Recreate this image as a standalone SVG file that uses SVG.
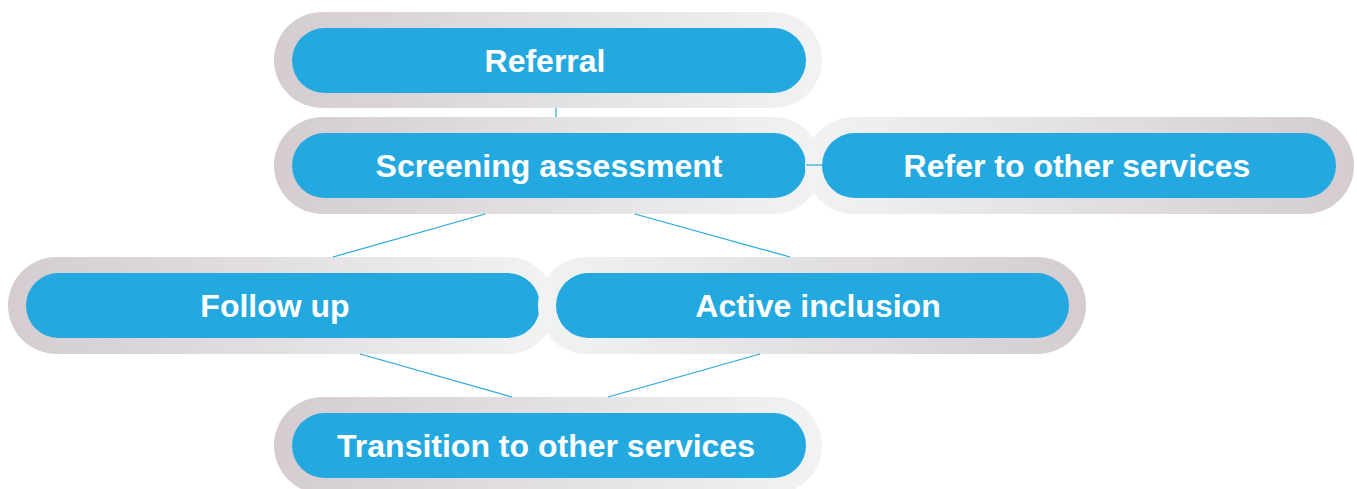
<svg xmlns="http://www.w3.org/2000/svg" width="1357" height="489" viewBox="0 0 1357 489">
  <defs>
    <linearGradient id="gDL" x1="0" y1="0" x2="1" y2="0">
      <stop offset="0" stop-color="#d4ccd1"/>
      <stop offset="1" stop-color="#f1f3f3"/>
    </linearGradient>
    <linearGradient id="gLD" x1="0" y1="0" x2="1" y2="0">
      <stop offset="0" stop-color="#f1f3f3"/>
      <stop offset="1" stop-color="#d4ccd1"/>
    </linearGradient>
  </defs>
  <style>
    .inner { fill: #24a8e0; }
    .lbl { fill: #ffffff; font-family: "Liberation Sans", Arial, sans-serif; font-weight: bold; font-size: 32px; text-anchor: middle; }
    .conn { stroke: #24a8e0; stroke-width: 1.2; fill: none; }
  </style>
  <rect width="1357" height="489" fill="#ffffff"/>
  <g id="referral">
    <rect x="274" y="12" width="548" height="96" rx="48" fill="url(#gDL)"/>
    <rect class="inner" x="292" y="28" width="514" height="65" rx="32.5"/>
    <text class="lbl" x="545" y="72">Referral</text>
  </g>
  <g id="screening">
    <rect x="274" y="117" width="548" height="97" rx="48.5" fill="url(#gDL)"/>
    <rect class="inner" x="292" y="133" width="514" height="65" rx="32.5"/>
    <text class="lbl" x="549" y="177">Screening assessment</text>
  </g>
  <g id="refer-other">
    <rect x="805" y="117" width="549" height="97" rx="48.5" fill="url(#gLD)"/>
    <rect class="inner" x="822" y="133" width="514" height="65" rx="32.5"/>
    <text class="lbl" x="1077" y="177">Refer to other services</text>
  </g>
  <g id="follow-up">
    <rect x="8" y="257" width="548" height="97" rx="48.5" fill="url(#gDL)"/>
    <rect class="inner" x="26" y="273" width="514" height="65" rx="32.5"/>
    <text class="lbl" x="275" y="317">Follow up</text>
  </g>
  <g id="active-inclusion">
    <rect x="538" y="257" width="548" height="97" rx="48.5" fill="url(#gLD)"/>
    <rect class="inner" x="556" y="273" width="513" height="65" rx="32.5"/>
    <text class="lbl" x="818" y="317">Active inclusion</text>
  </g>
  <g id="transition">
    <rect x="274" y="397" width="548" height="97" rx="48.5" fill="url(#gDL)"/>
    <rect class="inner" x="292" y="413" width="514" height="65" rx="32.5"/>
    <text class="lbl" x="546" y="457">Transition to other services</text>
  </g>
  <g id="connectors">
    <line class="conn" x1="556" y1="108" x2="556" y2="117"/>
    <line class="conn" x1="806" y1="165" x2="822" y2="165"/>
    <line class="conn" x1="485" y1="214" x2="333" y2="257"/>
    <line class="conn" x1="635" y1="214" x2="790" y2="257"/>
    <line class="conn" x1="360" y1="354" x2="512" y2="397"/>
    <line class="conn" x1="760" y1="354" x2="608" y2="397"/>
  </g>
</svg>
